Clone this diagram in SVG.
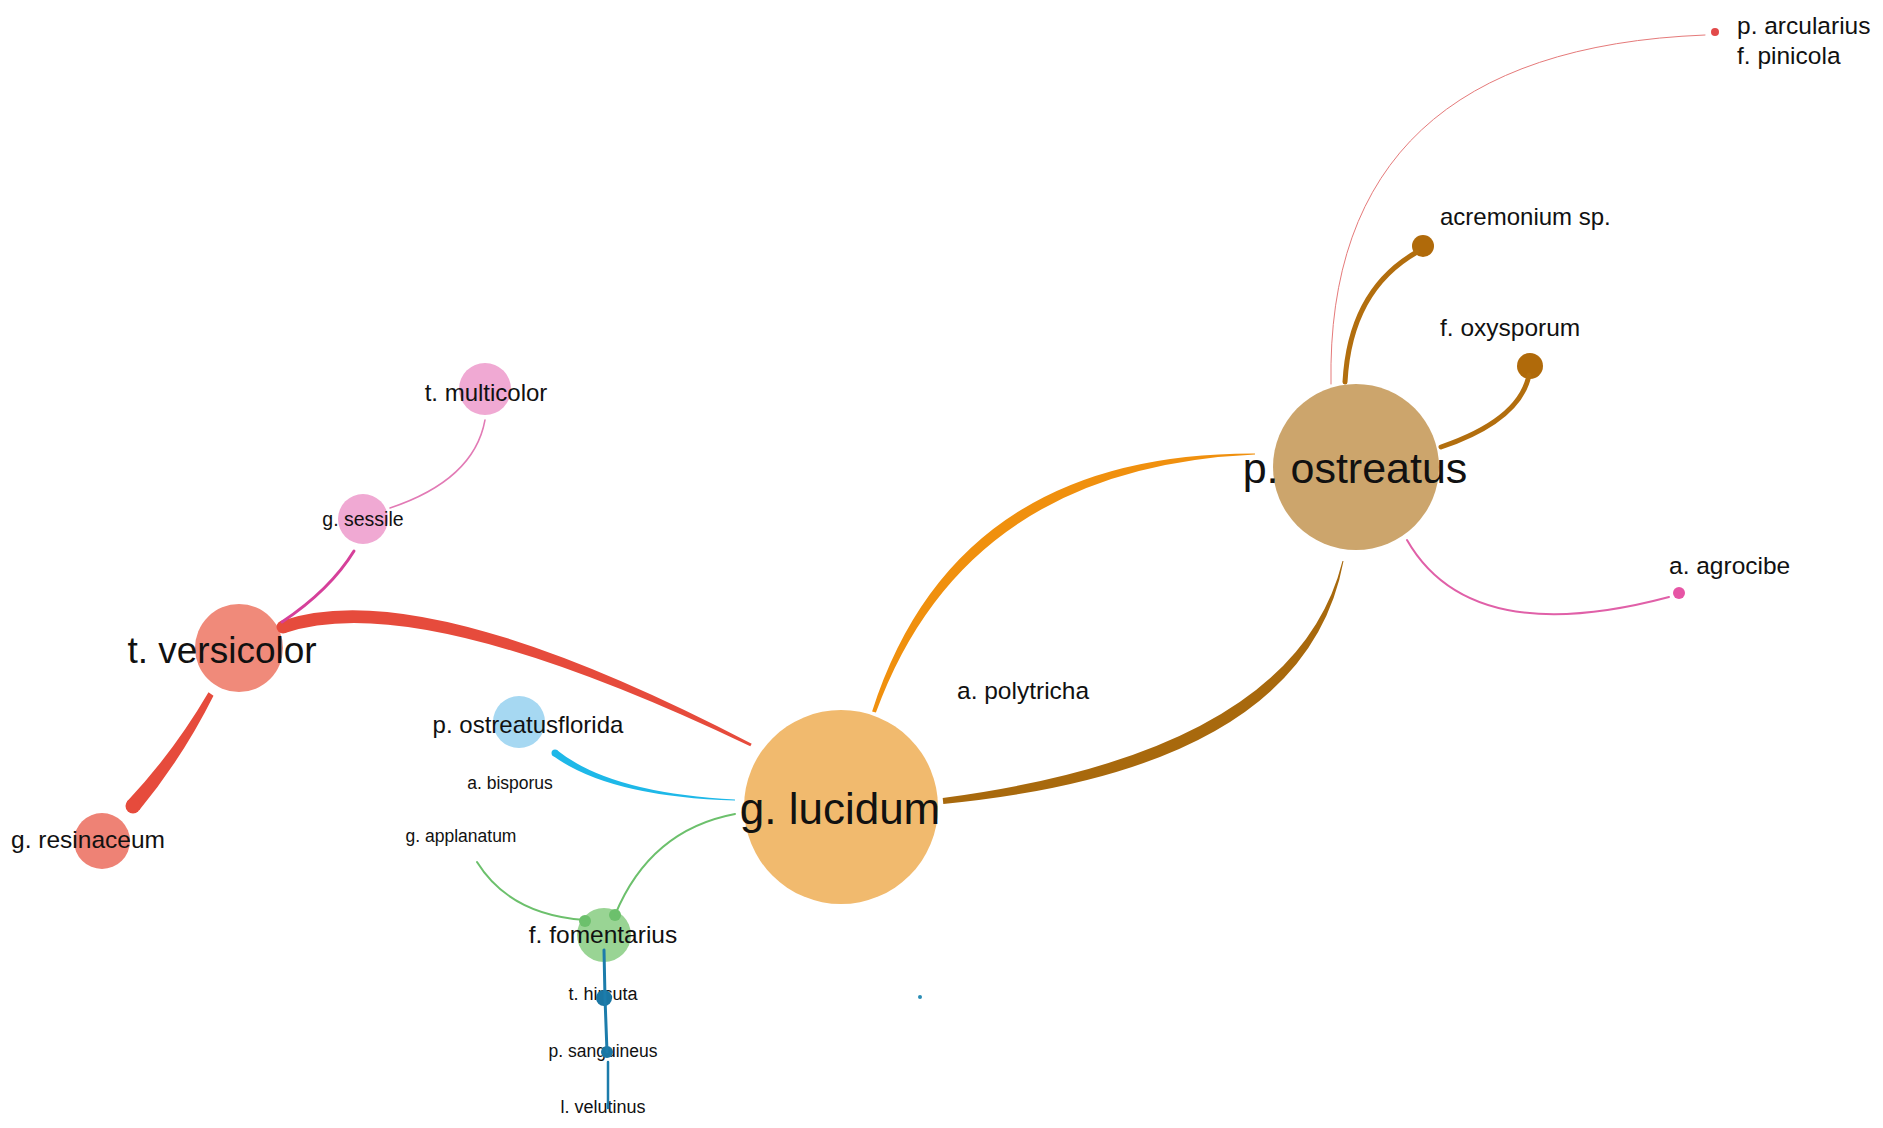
<svg xmlns="http://www.w3.org/2000/svg" width="1883" height="1128" viewBox="0 0 1883 1128">
<style>
text{font-family:"Liberation Sans",Arial,sans-serif;fill:#111}
.m{text-anchor:middle}
.e{fill:none;stroke-linecap:round}
</style>
<rect width="1883" height="1128" fill="#fff"/>
<g id="nodes">
<g id="n-p-ostreatus"><circle cx="1356" cy="467" r="83" fill="#CCA56C"/><text class="m" x="1355" y="483" font-size="43">p. ostreatus</text></g>
<g id="n-g-lucidum"><circle cx="841" cy="807" r="97" fill="#F1BA6E"/><text class="m" x="840" y="824" font-size="44">g. lucidum</text></g>
<g id="n-t-versicolor"><circle cx="239" cy="648" r="44" fill="#F08A7A"/><text class="m" x="222" y="663" font-size="37">t. versicolor</text></g>
<g id="n-g-resinaceum"><circle cx="102" cy="841" r="28" fill="#EE8275"/><text class="m" x="88" y="848" font-size="24.5">g. resinaceum</text></g>
<g id="n-t-multicolor"><circle cx="485" cy="389" r="26" fill="#F0A9D3"/><text class="m" x="486" y="401" font-size="24">t. multicolor</text></g>
<g id="n-g-sessile"><circle cx="363" cy="519" r="25" fill="#F0A9D3"/><text class="m" x="363" y="526" font-size="19.5">g. sessile</text></g>
<g id="n-p-ostreatusflorida"><circle cx="519" cy="722" r="26" fill="#A6D8F2"/><text class="m" x="528" y="733" font-size="24">p. ostreatusflorida</text></g>
<g id="n-a-bisporus"><text class="m" x="510" y="789" font-size="17.5">a. bisporus</text></g>
<g id="n-g-applanatum"><text class="m" x="461" y="842" font-size="17.5">g. applanatum</text></g>
<g id="n-f-fomentarius"><circle cx="604" cy="935" r="27" fill="#99D494"/><circle cx="585" cy="921" r="6" fill="#6CC06C"/><circle cx="615" cy="915" r="6" fill="#6CC06C"/><text class="m" x="603" y="943" font-size="24.5">f. fomentarius</text></g>
<g id="n-t-hirsuta"><text class="m" x="603" y="1000" font-size="18">t. hirsuta</text><circle cx="604" cy="998" r="8" fill="#1A76A3"/></g>
<g id="n-p-sanguineus"><text class="m" x="603" y="1057" font-size="17.5">p. sanguineus</text><circle cx="607" cy="1052" r="6" fill="#1A76A3"/></g>
<g id="n-l-velutinus"><text class="m" x="603" y="1113" font-size="18">l. velutinus</text></g>
<g id="n-a-polytricha"><text x="957" y="699" font-size="24.5">a. polytricha</text></g>
<g id="n-acremonium"><circle cx="1423" cy="246" r="11" fill="#B06A0A"/><text x="1440" y="225" font-size="24">acremonium sp.</text></g>
<g id="n-f-oxysporum"><circle cx="1530" cy="366" r="13" fill="#B06A0A"/><text x="1440" y="336" font-size="24.5">f. oxysporum</text></g>
<g id="n-a-agrocibe"><circle cx="1679" cy="593" r="6" fill="#E655A5"/><text x="1669" y="574" font-size="24.5">a. agrocibe</text></g>
<g id="n-p-arcularius"><circle cx="1715" cy="32" r="4" fill="#E24A4A"/><text x="1737" y="34" font-size="24.5">p. arcularius</text><text x="1737" y="64" font-size="24.5">f. pinicola</text></g>
<g id="n-dot"><circle cx="920" cy="997" r="2" fill="#2A8DB5"/></g>
</g>
<g id="connectors">
<path d="M285.1 633.1 Q418 587.8 750.3 746.3 L751.7 743.7 Q422 572.2 280.9 620.9 Z" fill="#E64B3C"/>
<circle cx="283" cy="627" r="6.5" fill="#E64B3C"/>
<path d="M213.5 695.7 Q182.3 758 139.2 810.3 L126.8 801.7 Q173.7 752 208.5 692.3 Z" fill="#E64B3C"/>
<circle cx="133" cy="806" r="7.5" fill="#E64B3C"/>
<path class="e" d="M282 622 Q330 590 354 551" stroke="#D6409A" stroke-width="3"/>
<path class="e" d="M390 508 Q474 480 485 420" stroke="#E27AB5" stroke-width="1.5"/>
<path d="M552.9 755.8 Q609.5 796.9 735 800.5 L735 799.5 Q610.5 793.1 557.1 750.2 Z" fill="#1EB8E8"/>
<circle cx="555" cy="753" r="3.5" fill="#1EB8E8"/>
<path class="e" d="M735 814 Q650 830 615 915" stroke="#6CC06C" stroke-width="2"/>
<path class="e" d="M477 862 Q510 915 585 920" stroke="#6CC06C" stroke-width="2"/>
<path d="M875.9 712.6 Q965 467.5 1255 454.5 L1255 453.5 Q955 452.5 872.1 711.4 Z" fill="#F0900E"/>
<path d="M943.3 804 Q1305.1 768.6 1343.5 561.1 L1342.5 560.9 Q1294.9 751.4 942.7 798 Z" fill="#A8690D"/>
<path class="e" d="M1345 382 Q1350 290 1417 252" stroke="#B26E0E" stroke-width="5"/>
<path class="e" d="M1441 447 Q1520 420 1529 375" stroke="#B26E0E" stroke-width="5"/>
<path class="e" d="M1407 540 Q1470 650 1669 597" stroke="#E060A8" stroke-width="2"/>
<path class="e" d="M1331 384 Q1325 50 1705 35" stroke="#E57A7A" stroke-width="1"/>
<path class="e" d="M604 950 L605 998 L607 1052" stroke="#1C7CAB" stroke-width="3"/>
<path class="e" d="M608 1062 L608 1108" stroke="#1C7CAB" stroke-width="2.5"/>
</g>
</svg>
